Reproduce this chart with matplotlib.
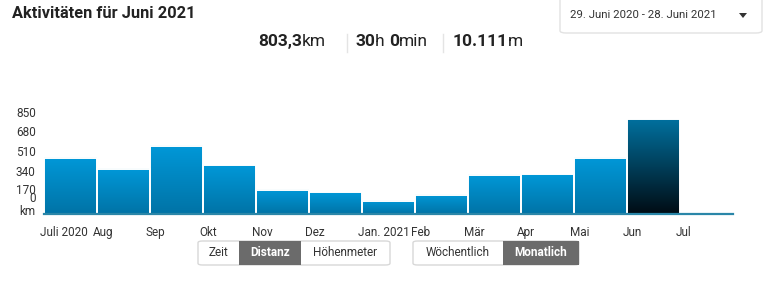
import numpy as np
import matplotlib
matplotlib.use("Agg")
import matplotlib.pyplot as plt
from matplotlib.colors import LinearSegmentedColormap
from matplotlib.patches import Rectangle, FancyBboxPatch, Polygon
from matplotlib.transforms import ScaledTranslation

# ---------------- data ----------------
months = ['Juli 2020', 'Aug', 'Sep', 'Okt', 'Nov', 'Dez', 'Jan. 2021',
          'Feb', 'Mär', 'Apr', 'Mai', 'Jun', 'Jul']
distance_km = [474, 381, 578, 414, 203, 186, 110, 161, 330, 338, 474, 803.3, 0]
ytick_labels = ['850', '680', '510', '340', '170', '0', 'km']
title = 'Aktivitäten für Juni 2021'
date_range = '29. Juni 2020 - 28. Juni 2021'
buttons_metric = ['Zeit', 'Distanz', 'Höhenmeter']
buttons_period = ['Wöchentlich', 'Monatlich']
active_idx = 11  # current month highlighted

# ---------------- layout ----------------
W, H = 774, 283
fig = plt.figure(figsize=(W / 100, H / 100), dpi=100)
FONT = 'Roboto'

def px(x, y):
    """pixel (from top-left) -> figure fraction"""
    return x / W, 1 - y / H

ax_left, ax_right, ax_top, ax_bottom = 44, 733, 100, 214
ax = fig.add_axes([ax_left / W, (H - ax_bottom) / H,
                   (ax_right - ax_left) / W, (ax_bottom - ax_top) / H])
ymax = 964
for s in ax.spines.values():
    s.set_visible(False)

blue = LinearSegmentedColormap.from_list('b', ['#0073a6', '#0098d8'])
dark = LinearSegmentedColormap.from_list('d', ['#000c14', '#00709e'])
grad = np.linspace(0, 1, 256).reshape(-1, 1)
for i, v in enumerate(distance_km):
    if v <= 0:
        continue
    cm = dark if i == active_idx else blue
    ax.imshow(grad, extent=[i, i + 1, 0, v], origin='lower', aspect='auto',
              cmap=cm, zorder=1, interpolation='bilinear')
ax.bar(np.arange(len(months)), distance_km, width=1, align='edge',
       facecolor='none', edgecolor='white', linewidth=1.4, zorder=2)
ax.set_xlim(0, len(months))
ax.set_ylim(0, ymax)
ax.axhline(0, color='#2a86a8', linewidth=1.6, zorder=3, clip_on=False)

# y tick labels (positions as they appear in the reference)
ytick_pos = [865, 702, 533, 366, 211, 144, 34]
ax.set_yticks(ytick_pos)
ax.set_yticklabels(ytick_labels, fontsize=8.5, color='#333333', family=FONT)
ax.tick_params(axis='y', length=0, pad=6)

# x labels, left-aligned at month boundaries, on a common baseline
ax.set_xticks([])
xlab_trans = ax.get_xaxis_transform() + ScaledTranslation(-4 / 100, 0, fig.dpi_scale_trans)
label_y = -(236 - ax_bottom) / (ax_bottom - ax_top)
for i, m in enumerate(months):
    ax.text(i, label_y, m, transform=xlab_trans, fontsize=8.5, family=FONT,
            color='#333333', ha='left', va='baseline', clip_on=False)

# ---------------- header ----------------
fig.text(*px(12, 13), title, fontsize=11.8, fontweight='bold', family=FONT,
         color='#222222', va='center', ha='left')

renderer = fig.canvas.get_renderer()

def run_text(x, y, parts):
    """draw sequence of (text, bold) pieces starting at pixel x"""
    for txt, bold in parts:
        t = fig.text(*px(x, y), txt, fontsize=12.5, family=FONT,
                     fontweight='bold' if bold else 'normal',
                     color='#222222', va='center', ha='left')
        bb = t.get_window_extent(renderer)
        x += bb.width
    return x

run_text(258, 42, [('803,3', True), ('km', False)])
run_text(355, 42, [('30', True), ('h ', False), ('0', True), ('min', False)])
run_text(453, 42, [('10.111', True), ('m', False)])
for sx in (347, 443):
    fig.add_artist(plt.Line2D([sx / W, sx / W], [1 - 34 / H, 1 - 52 / H],
                              color='#e4e4e4', linewidth=1))

# dropdown
fig.add_artist(FancyBboxPatch(px(560, 33), 202 / W, 40 / H,
                              boxstyle='round,pad=0,rounding_size=0.008',
                              transform=fig.transFigure, facecolor='white',
                              edgecolor='#e2e2e2', linewidth=1))
fig.text(*px(570, 15), date_range, fontsize=8.2, family=FONT, color='#333333',
         va='center', ha='left')
tri = Polygon([px(739, 13), px(747, 13), px(743, 18)], closed=True,
              transform=fig.transFigure, facecolor='#333333', edgecolor='none')
fig.add_artist(tri)

# ---------------- buttons ----------------
def button_group(x0, widths, labels, active):
    y0, y1 = 241, 265
    total = sum(widths)
    fig.add_artist(FancyBboxPatch(px(x0, y1), total / W, (y1 - y0) / H,
                                  boxstyle='round,pad=0,rounding_size=0.006',
                                  transform=fig.transFigure, facecolor='white',
                                  edgecolor='#d8d8d8', linewidth=1))
    x = x0
    for w, lab in zip(widths, labels):
        is_act = lab == active
        if is_act:
            fig.add_artist(Rectangle(px(x, y1), w / W, (y1 - y0) / H,
                                     transform=fig.transFigure,
                                     facecolor='#6b6b6b', edgecolor='none'))
        fig.text(*px(x + w / 2, (y0 + y1) / 2), lab, fontsize=8.5, family=FONT,
                 fontweight='bold' if is_act else 'normal',
                 color='white' if is_act else '#333333',
                 va='center', ha='center')
        x += w

button_group(198, [41, 62, 89], buttons_metric, 'Distanz')
button_group(413, [90, 76], buttons_period, 'Monatlich')

fig.savefig('out.png', dpi=100)
